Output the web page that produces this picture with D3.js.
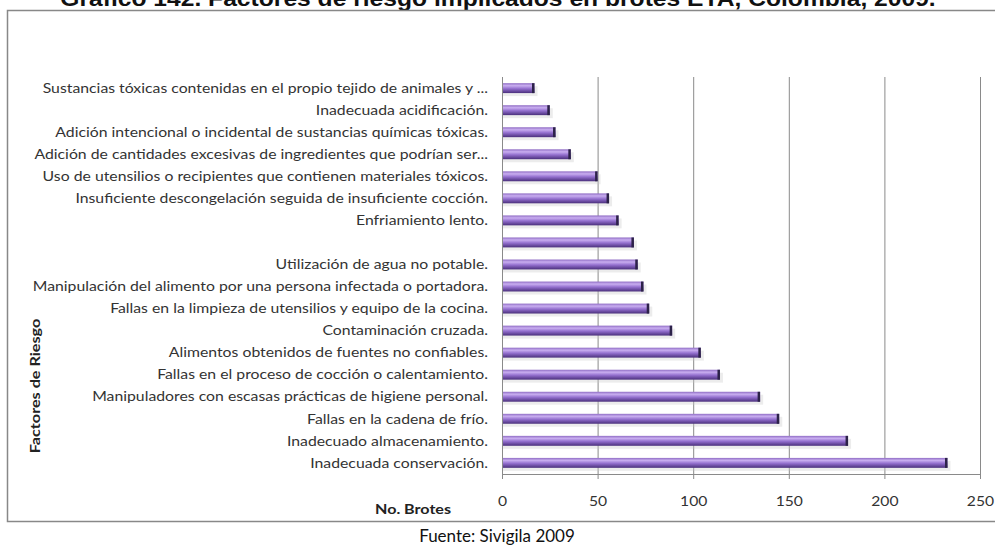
<!DOCTYPE html>
<html>
<head>
<meta charset="utf-8">
<script src="https://cdn.jsdelivr.net/npm/d3@7"></script>
<style>
  body { margin: 0; background: #fff; }
  svg { display: block; }
</style>
</head>
<body>
<div id="chart"></div>
<script>
// Datos (Sivigila 2009)
const categories = [
    'Sustancias tóxicas contenidas en el propio tejido de animales y ...',
    'Inadecuada acidificación.',
    'Adición intencional o incidental de sustancias  químicas tóxicas.',
    'Adición de cantidades  excesivas de ingredientes que podrían ser...',
    'Uso de utensilios o recipientes que contienen materiales  tóxicos.',
    'Insuficiente descongelación seguida de insuficiente cocción.',
    'Enfriamiento lento.',
    '',
    'Utilización  de agua no potable.',
    'Manipulación del alimento  por una persona infectada o portadora.',
    'Fallas en la limpieza de utensilios y equipo de la cocina.',
    'Contaminación cruzada.',
    'Alimentos obtenidos de fuentes no confiables.',
    'Fallas en el proceso de cocción o calentamiento.',
    'Manipuladores con escasas prácticas  de higiene personal.',
    'Fallas en la cadena de frío.',
    'Inadecuado almacenamiento.',
    'Inadecuada conservación.'
];
const brotes = [17, 25, 28, 36, 50, 56, 61, 69, 71, 74, 77, 89, 104, 114, 135, 145, 181, 233];
const xTicks = [0, 50, 100, 150, 200, 250];

const width = 995, height = 547;
const plot = { left: 502, right: 980, top: 77, bottom: 474 };
const labelFont = 'Lato, Carlito, Calibri, sans-serif';

const svg = d3.select('#chart').append('svg')
    .attr('width', width)
    .attr('height', height);

// Gradiente de las barras
const defs = svg.append('defs');
const grad = defs.append('linearGradient')
    .attr('id', 'bar-grad')
    .attr('x1', '0%').attr('y1', '0%')
    .attr('x2', '0%').attr('y2', '100%');
grad.append('stop').attr('offset', '0%').attr('stop-color', '#8f6cc4');
grad.append('stop').attr('offset', '25%').attr('stop-color', '#c9aef0');
grad.append('stop').attr('offset', '55%').attr('stop-color', '#9470cf');
grad.append('stop').attr('offset', '100%').attr('stop-color', '#4a2f7c');

// Título (recortado arriba)
svg.append('text')
    .attr('transform', 'translate(498,6) scale(1.12,1)')
    .attr('text-anchor', 'middle')
    .attr('font-family', 'Liberation Sans, Arial, sans-serif')
    .attr('font-weight', 'bold')
    .attr('font-size', 22)
    .attr('fill', '#111')
    .text('Gráfico 142. Factores de riesgo implicados en brotes ETA, Colombia, 2009.');

// Marco
svg.append('rect')
    .attr('x', 7.5)
    .attr('y', 10.5)
    .attr('width', 1000)
    .attr('height', 511)
    .attr('fill', '#fff')
    .attr('stroke', '#888')
    .attr('stroke-width', 1.5);

const x = d3.scaleLinear().domain([0, 250]).range([plot.left, plot.right]);
const y = d3.scaleBand().domain(d3.range(categories.length))
    .range([plot.top, plot.bottom])
    .paddingInner(0.55)
    .paddingOuter(0.28);

// Líneas de cuadrícula
svg.append('g')
    .selectAll('line')
    .data(xTicks.slice(1))
    .join('line')
    .attr('x1', d => x(d) + 0.5)
    .attr('x2', d => x(d) + 0.5)
    .attr('y1', plot.top)
    .attr('y2', plot.bottom)
    .attr('stroke', '#8a8a8a')
    .attr('stroke-width', 1);

// Eje X
const xAxis = svg.append('g')
    .attr('transform', `translate(0,${plot.bottom})`)
    .call(d3.axisBottom(x).tickValues(xTicks).tickSize(5).tickPadding(17).tickSizeOuter(0));
xAxis.select('.domain').attr('stroke', '#8a8a8a');
xAxis.selectAll('.tick line').attr('stroke', '#8a8a8a');
xAxis.selectAll('.tick text')
    .attr('font-family', labelFont)
    .attr('font-size', 14)
    .attr('transform', 'scale(1.12,1)')
    .attr('fill', '#333');

// Eje Y (línea)
svg.append('line')
    .attr('x1', plot.left + 0.5).attr('x2', plot.left + 0.5)
    .attr('y1', plot.top).attr('y2', plot.bottom + 4)
    .attr('stroke', '#8a8a8a');

// Sombra de barras
svg.append('g')
    .selectAll('rect')
    .data(brotes)
    .join('rect')
    .attr('x', plot.left + 1)
    .attr('y', (d, i) => y(i) + 3)
    .attr('width', d => x(d) - plot.left + 2)
    .attr('height', y.bandwidth())
    .attr('fill', '#c8c8c8')
    .attr('opacity', 0.35);

// Barras
const bars = svg.append('g');
bars.selectAll('rect.bar')
    .data(brotes)
    .join('rect')
    .attr('class', 'bar')
    .attr('x', plot.left + 1)
    .attr('y', (d, i) => y(i))
    .attr('width', d => x(d) - plot.left - 1)
    .attr('height', y.bandwidth())
    .attr('fill', 'url(#bar-grad)');

// Tapa del extremo
bars.selectAll('rect.cap')
    .data(brotes)
    .join('rect')
    .attr('class', 'cap')
    .attr('x', d => x(d) - 2.5)
    .attr('y', (d, i) => y(i))
    .attr('width', 2.5)
    .attr('height', y.bandwidth())
    .attr('fill', '#2c2248');

// Etiquetas de categorías
svg.append('g')
    .selectAll('text')
    .data(categories)
    .join('text')
    .attr('transform', (d, i) => `translate(488,${y(i) + y.bandwidth() / 2}) scale(1.17,1)`)
    .attr('dy', '0.35em')
    .attr('text-anchor', 'end')
    .attr('font-family', labelFont)
    .attr('font-size', 13.5)
    .attr('fill', '#333')
    .text(d => d);

// Título eje Y
svg.append('text')
    .attr('transform', 'translate(40,386) rotate(-90) scale(1.2,1)')
    .attr('text-anchor', 'middle')
    .attr('font-family', labelFont)
    .attr('font-weight', 'bold')
    .attr('font-size', 13.5)
    .attr('fill', '#222')
    .text('Factores de Riesgo');

// Título eje X
svg.append('text')
    .attr('transform', 'translate(413,514) scale(1.15,1)')
    .attr('text-anchor', 'middle')
    .attr('font-family', labelFont)
    .attr('font-weight', 'bold')
    .attr('font-size', 14)
    .attr('fill', '#222')
    .text('No. Brotes');

// Fuente
svg.append('text')
    .attr('x', 497)
    .attr('y', 542)
    .attr('text-anchor', 'middle')
    .attr('font-family', labelFont)
    .attr('font-size', 17)
    .attr('fill', '#111')
    .text('Fuente: Sivigila 2009');
</script>
</body>
</html>
